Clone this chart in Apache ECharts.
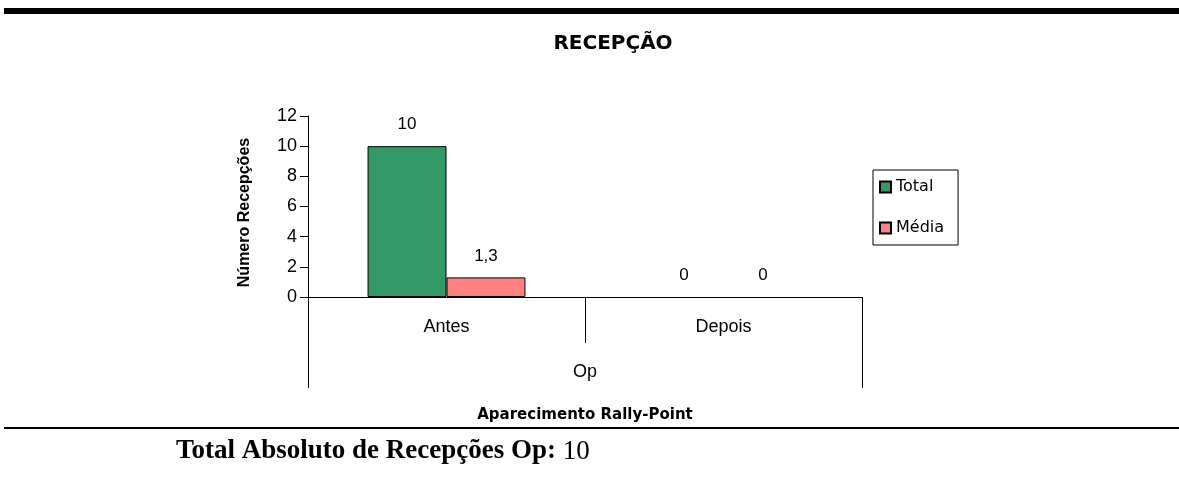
<!DOCTYPE html>
<html><head><meta charset="utf-8">
<script src="https://cdn.jsdelivr.net/npm/echarts@6/dist/echarts.min.js"></script>
<style>html,body{margin:0;padding:0;background:#fff}#c{width:1179px;height:477px}</style>
</head><body><div id="c"></div>
<script>
const categories = ['Antes', 'Depois'];
const groupLabel = ['Op'];
const totalValues = [10, 0];
const mediaValues = [1.3, 0];
const seriesNames = ['Total', 'Média'];
const yTicks = { min: 0, max: 12, interval: 2 };

const chart = echarts.init(document.getElementById('c'));
const fmt = p => String(p.value).replace('.', ',');
const labelStyle = { show: true, position: 'top', distance: 13, color: '#000', fontFamily: 'Liberation Sans, Arial', fontSize: 17, formatter: fmt };
const toData = arr => arr.map(v => v === 0 ? { value: v, itemStyle: { borderWidth: 0 } } : v);
chart.setOption({
  animation: false,
  backgroundColor: '#fff',
  title: {
    text: 'RECEPÇÃO', left: 608, top: 29, textAlign: 'center',
    textStyle: { fontFamily: 'DejaVu Sans', fontWeight: 'bold', fontSize: 20, color: '#000' }
  },
  graphic: [
    { type: 'rect', shape: { x: 4, y: 8, width: 1175, height: 6 }, style: { fill: '#000' } },
    { type: 'rect', shape: { x: 4, y: 427, width: 1175, height: 2 }, style: { fill: '#000' } },
    { type: 'text', left: 176, top: 438, style: { rich: { b: { fontFamily: 'Liberation Serif', fontWeight: 'bold', fontSize: 27, fill: '#000' }, n: { fontFamily: 'Liberation Serif', fontSize: 27, fill: '#000' } }, text: '{b|Total Absoluto de Recepções Op:}{n| ' + totalValues.reduce((a, b) => a + b, 0) + '}' } }
  ],
  legend: {
    orient: 'vertical', left: 873, top: 170, data: seriesNames,
    borderColor: '#000', borderWidth: 1, borderRadius: 0, padding: [9, 14, 9, 6],
    itemWidth: 11, itemHeight: 11, itemGap: 25, icon: 'rect',
    textStyle: { fontFamily: 'DejaVu Sans', fontSize: 16, color: '#000' }
  },
  grid: { left: 308, right: 317, top: 116, bottom: 180, containLabel: false },
  xAxis: [
    {
      type: 'category', data: categories, position: 'bottom',
      axisLine: { show: true, lineStyle: { color: '#000', width: 1 } },
      axisTick: { show: true, length: 46, interval: 0, alignWithLabel: false, lineStyle: { color: '#000' } },
      axisLabel: { margin: 21, fontFamily: 'Liberation Sans, Arial', fontSize: 18, color: '#000' }
    },
    {
      type: 'category', data: groupLabel, position: 'bottom',
      axisLine: { show: false },
      axisTick: { show: true, length: 91, interval: 0, alignWithLabel: false, lineStyle: { color: '#000' } },
      axisLabel: { margin: 66, fontFamily: 'Liberation Sans, Arial', fontSize: 18, color: '#000' },
      name: 'Aparecimento Rally-Point', nameLocation: 'middle', nameGap: 111,
      nameTextStyle: { fontFamily: 'DejaVu Sans', fontWeight: 'bold', fontSize: 15, color: '#000' }
    }
  ],
  yAxis: {
    type: 'value', min: yTicks.min, max: yTicks.max, interval: yTicks.interval,
    axisLine: { show: true, lineStyle: { color: '#000' } },
    axisTick: { show: true, length: 8, lineStyle: { color: '#000' } },
    splitLine: { show: false },
    axisLabel: { margin: 11, fontFamily: 'Liberation Sans, Arial', fontSize: 18, color: '#000' },
    name: 'Número Recepções', nameLocation: 'middle', nameGap: 55, nameRotate: 90,
    nameTextStyle: { fontFamily: 'Liberation Sans, Arial', fontWeight: 'bold', fontSize: 16, color: '#000', padding: [0, 0, 0, -12] }
  },
  series: [
    { name: seriesNames[0], type: 'bar', data: toData(totalValues), barGap: '0%', barCategoryGap: '43%',
      itemStyle: { color: '#339966', borderColor: '#000', borderWidth: 1 }, label: labelStyle },
    { name: seriesNames[1], type: 'bar', data: toData(mediaValues),
      itemStyle: { color: '#FF8080', borderColor: '#000', borderWidth: 1 }, label: labelStyle }
  ]
});
</script></body></html>
